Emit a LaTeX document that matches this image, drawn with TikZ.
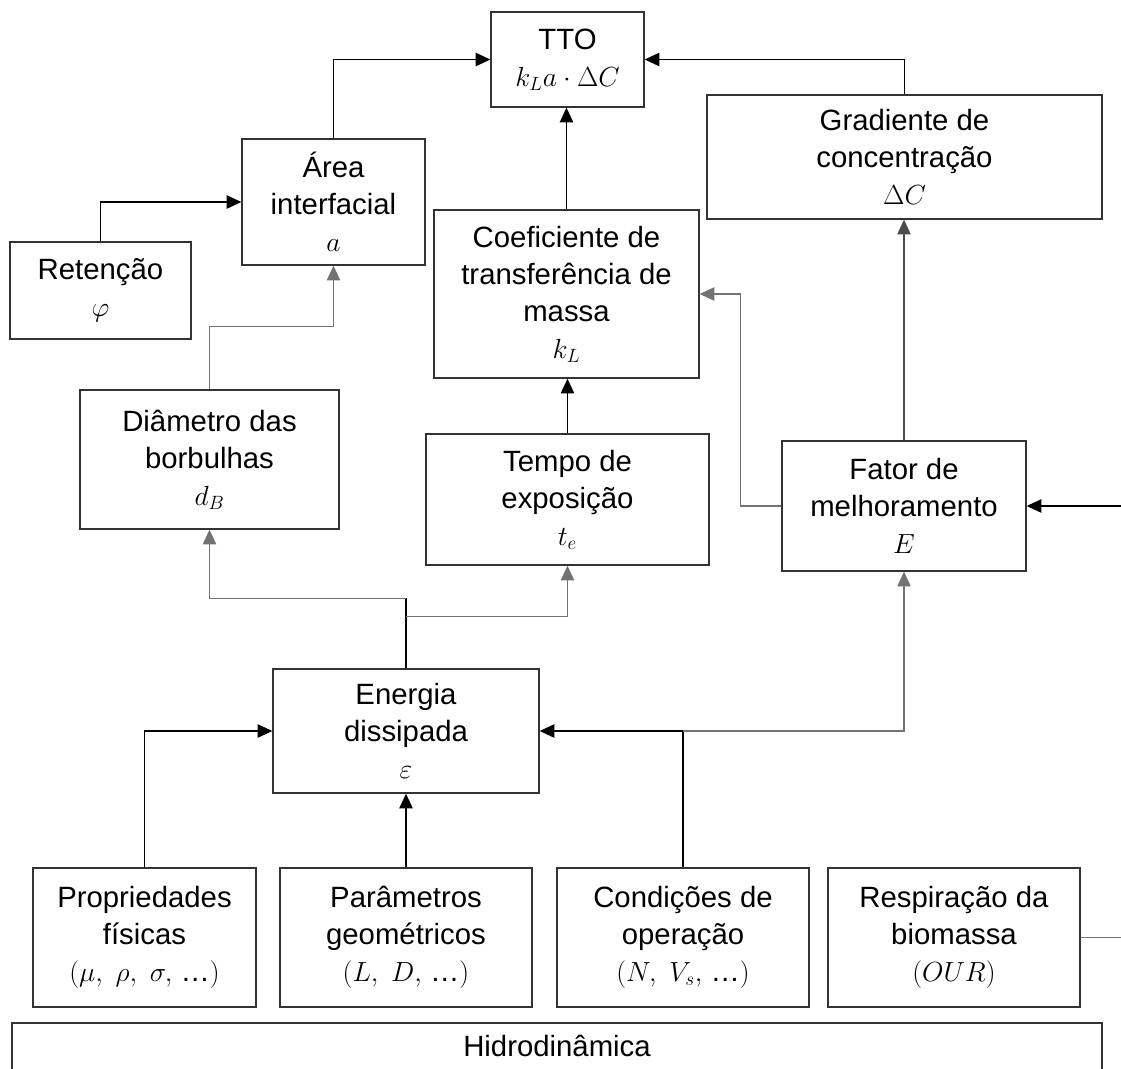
\documentclass[tikz,border=0pt]{standalone}
\usepackage{fontspec}
\setmainfont{Liberation Sans}
\usetikzlibrary{arrows.meta,calc}
\begin{document}
\begin{tikzpicture}[x=0.75pt,y=-0.75pt,
  box/.style 2 args={draw=black!80, line width=1pt, inner sep=0pt, align=center,
    minimum width=#1*0.75pt, minimum height=#2*0.75pt,
    font=\fontsize{22}{27.75}\selectfont},
  lbl/.style={inner sep=0pt, font=\fontsize{22}{27.75}\selectfont},
  conn/.style={line width=1pt, draw=black},
  gconn/.style={line width=1pt, draw=black!55},
  arr/.style={conn, -{Triangle[length=11pt,width=10pt]}},
  garr/.style={gconn, -{Triangle[length=11pt,width=10pt]}}]
\useasboundingbox (0,0) rectangle (1121,1068);
\clip (0,0) rectangle (1121,1068);

% boxes
\node[box={153}{95}]  (tto)   at (567.5,59.5) {TTO\\$k_L a\cdot\Delta C$};
\node[box={395}{124}] (grad)  at (904.5,157)  {Gradiente de\\concentração\\$\Delta C$};
\node[box={183}{126}] (area)  at (333.5,202)  {Área\\interfacial\\$a$};
\node[box={181}{97}]  (ret)   at (100.5,290.5){Retenção\\$\varphi$};
\node[box={265}{168}] (coef)  at (566.5,294)  {Coeficiente de\\transferência de\\massa\\$k_L$};
\node[box={259}{139}] (diam)  at (209.5,459.5){Diâmetro das\\borbulhas\\$d_B$};
\node[box={283}{131}] (tempo) at (567.5,499.5){Tempo de\\exposição\\$t_e$};
\node[box={244}{130}] (fator) at (904,506)    {Fator de\\melhoramento\\$E$};
\node[box={266}{124}] (ener)  at (406,731)    {Energia\\dissipada\\$\varepsilon$};
\node[box={223}{139}] (prop)  at (144.5,937.5){Propriedades\\físicas\\$(\mu,\ \rho,\ \sigma,$ …$)$};
\node[box={252}{139}] (param) at (406,937.5)  {Parâmetros\\geométricos\\$(L,\ D,$ …$)$};
\node[box={252}{139}] (cond)  at (683,937.5)  {Condições de\\operação\\$(N,\ V_s,$ …$)$};
\node[box={252}{139}] (resp)  at (954,937.5)  {Respiração da\\biomassa\\$(OUR)$};
\node[box={1090}{90}] (hidro) at (557,1068)   {};
\node[lbl] (hidrotxt) at (557,1046) {Hidrodinâmica};

% free ends at the right border
\coordinate (edgeF) at (1121,506);
\coordinate (edgeR) at (1121,937.5);

% junctions
\coordinate (eTop) at ($(ener.north)+(0,-70)$);
\coordinate (eMid) at ($(ener.north)+(0,-52)$);
\coordinate (cJ) at (cond.north |- ener.east);

% connectors
\draw[arr] (area.north) |- (tto.west);
\draw[arr] (grad.north) |- (tto.east);
\draw[arr] (ret.north) |- (area.west);
\draw[arr] (coef.north) -- (coef.north |- tto.south);
\draw[arr] (tempo.north) -- (tempo.north |- coef.south);
\draw[garr] (diam.north) -- ++(0,-63) -| (area.south);
\draw[conn] (ener.north) -- (eTop);
\draw[garr] (eTop) -| (diam.south);
\draw[garr] (eMid) -| (tempo.south);
\draw[arr] (prop.north) |- (ener.west);
\draw[arr] (param.north) -- (ener.south);
\draw[conn, line width=1.3pt] (cond.north) -- (cJ);
\draw[arr] (cJ) -- (ener.east);
\draw[garr] (cJ) -| (fator.south);
\draw[arr, draw=black!70] (fator.north) -- (fator.north |- grad.south);
\draw[garr] (fator.west) -- ++(-41,0) |- (coef.east);
\draw[arr] (edgeF) -- (fator.east);
\draw[gconn] (resp.east) -- (edgeR);
\end{tikzpicture}
\end{document}
